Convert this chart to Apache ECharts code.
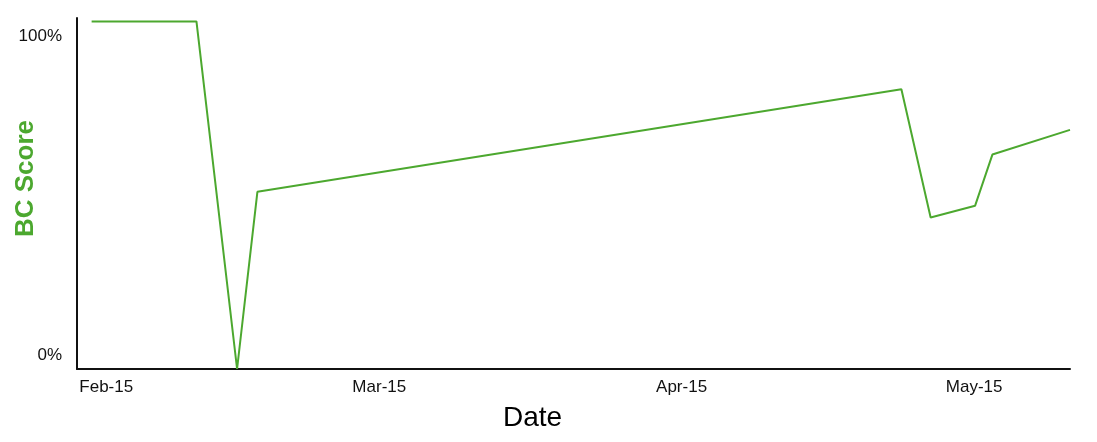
<!DOCTYPE html>
<html>
<head>
<meta charset="utf-8">
<script src="https://cdn.jsdelivr.net/npm/echarts@6/dist/echarts.min.js"></script>
<style>
html,body{margin:0;padding:0;background:#fff;}
#chart{width:1097px;height:442px;}
</style>
</head>
<body>
<div id="chart"></div>
<script>
// Data
var dates = [
  '2015-01-30T12:00:00Z',
  '2015-02-10T06:00:00Z',
  '2015-02-14T10:00:00Z',
  '2015-02-16T12:00:00Z',
  '2015-04-23T13:00:00Z',
  '2015-04-26T13:00:00Z',
  '2015-05-01T02:30:00Z',
  '2015-05-02T21:00:00Z',
  '2015-05-10T20:00:00Z'
];
var scores = [100, 100, 0, 51, 80.5, 43.6, 47, 61.7, 68.8];
var monthTicks = ['2015-02-01T00:00:00Z', '2015-03-01T00:00:00Z', '2015-04-01T00:00:00Z', '2015-05-01T00:00:00Z'];
var monthLabels = ['Feb-15', 'Mar-15', 'Apr-15', 'May-15'];
var yTicks = [0, 100];
var yLabels = ['0%', '100%'];

var tickTimes = monthTicks.map(function (d) { return Date.parse(d); });
var seriesData = dates.map(function (d, i) { return [Date.parse(d), scores[i]]; });
var green = '#4ca82f';

var chart = echarts.init(document.getElementById('chart'));
chart.setOption({
  animation: false,
  backgroundColor: '#fff',
  grid: { left: 77, right: 27, top: 18, bottom: 73, containLabel: false, outerBoundsMode: 'none' },
  xAxis: {
    type: 'value',
    min: Date.parse('2015-01-29T00:00:00Z'),
    max: Date.parse('2015-05-10T20:00:00Z'),
    name: 'Date',
    nameLocation: 'middle',
    nameGap: 35,
    nameMoveOverlap: false,
    nameTextStyle: { fontFamily: 'Liberation Sans', fontSize: 28, color: '#000', padding: [0, 82, 0, 0] },
    axisLine: { show: true, lineStyle: { color: '#111', width: 2 } },
    axisTick: { show: false },
    splitLine: { show: false },
    axisLabel: {
      customValues: tickTimes,
      margin: 10,
      fontFamily: 'Liberation Sans',
      fontSize: 17,
      color: '#111',
      formatter: function (v) {
        var i = tickTimes.indexOf(v);
        return i >= 0 ? monthLabels[i] : '';
      }
    }
  },
  yAxis: {
    type: 'value',
    min: 0,
    max: 101,
    name: 'BC Score',
    nameLocation: 'middle',
    nameGap: 38,
    nameMoveOverlap: false,
    nameTextStyle: { fontFamily: 'Liberation Sans', fontSize: 26, fontWeight: 'bold', color: green, padding: [0, 0, 0, 30] },
    axisLine: { show: true, lineStyle: { color: '#111', width: 2 } },
    axisTick: { show: false },
    splitLine: { show: false },
    axisLabel: {
      customValues: yTicks,
      margin: 15,
      fontFamily: 'Liberation Sans',
      fontSize: 17,
      color: '#111',
      formatter: function (v) {
        var i = yTicks.indexOf(v);
        if (i < 0) return '';
        return v === 100 ? '{top|' + yLabels[i] + '}' : '{bot|' + yLabels[i] + '}';
      },
      rich: {
        top: { fontFamily: 'Liberation Sans', fontSize: 17, color: '#111', padding: [30, 0, 0, 0] },
        bot: { fontFamily: 'Liberation Sans', fontSize: 17, color: '#111', padding: [0, 0, 28, 0] }
      }
    }
  },
  series: [{
    type: 'line',
    data: seriesData,
    showSymbol: false,
    symbol: 'none',
    lineStyle: { color: green, width: 2 },
    itemStyle: { color: green }
  }]
});
</script>
</body>
</html>
